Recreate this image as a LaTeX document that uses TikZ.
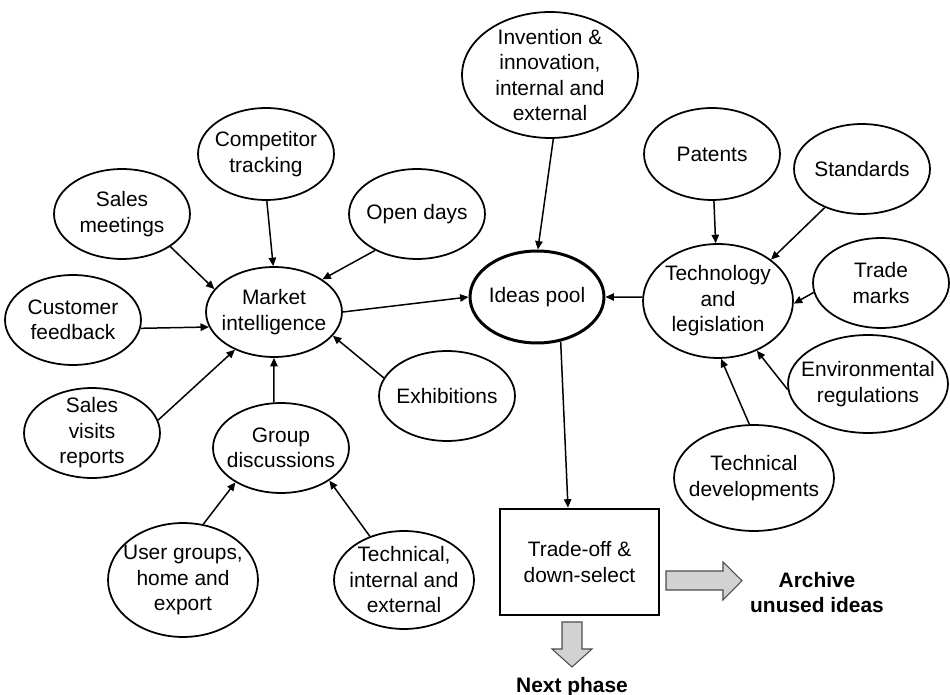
\documentclass[tikz,border=0pt]{standalone}
\usepackage{fontspec}
\setmainfont{Liberation Sans}
\usetikzlibrary{shapes.geometric,arrows.meta,calc}
\newcommand\diagfont{\fontsize{11.9pt}{14.5pt}\selectfont}
\begin{document}
\begin{tikzpicture}[x=0.02cm,y=-0.02cm,
  ell/.style 2 args={ellipse, draw, line width=1pt,
    minimum width={#1*0.04cm}, minimum height={#2*0.04cm},
    inner xsep=-0.3cm, inner ysep=-0.24cm, align=center, font=\diagfont},
  conn/.style={line width=0.85pt, -{Triangle[length=4.8pt,width=4.2pt]}},
  barrow/.style={fill=gray!35, draw=black!70, line width=0.6pt, line join=miter},
  lbl/.style={font=\diagfont\bfseries, align=center}]
\useasboundingbox (0,0) rectangle (950,695);

% sources feeding the market intelligence
\node[ell={68}{46}] (comp)  at (266,154) {Competitor\\tracking};
\node[ell={68}{45}] (smeet) at (122,214) {Sales\\meetings};
\node[ell={68}{45}] (open)  at (417,214) {Open days};
\node[ell={68}{45}] (cust)  at (73,320)  {Customer\\feedback};
\node[ell={68}{45}] (mkt)   at (274,312) {Market\\intelligence};
\node[ell={68}{45}] (exh)   at (447,396) {Exhibitions};
\node[ell={68}{45}] (svis)  at (92,433)  {Sales\\visits\\reports};
\node[ell={68}{45}] (grp)   at (281,448) {Group\\discussions};
\node[ell={75}{57}] (user)  at (183,580) {User groups,\\home and\\export};
\node[ell={70}{49}] (texe)  at (404,580) {Technical,\\internal and\\external};

% central pool
\node[ell={88}{63}] (inv) at (550,75) {Invention \&\\innovation,\\internal and\\external};
\node[ell={67}{46}, line width=1.7pt] (pool) at (537,297) {Ideas pool};

% technology and legislation side
\node[ell={68}{46}] (pat)  at (712,154) {Patents};
\node[ell={68}{45}] (std)  at (862,169) {Standards};
\node[ell={75}{57}] (tech) at (718,301) {Technology\\and\\legislation};
\node[ell={68}{45}] (tm)   at (881,283) {Trade\\marks};
\node[ell={80}{49}] (env)  at (868,384) {Environmental\\regulations};
\node[ell={80}{53}] (tdev) at (754,478) {Technical\\developments};

% selection stage
\node[draw, line width=1.6pt, minimum width={159*0.02cm}, minimum height={106*0.02cm},
      align=center, font=\diagfont] (box) at (579.5,562) {Trade-off \&\\down-select};
\node[lbl] (arch) at (817,592.5) {Archive\\unused ideas};
\node[lbl, anchor=base] (next) at (572,692) {Next phase};

% connectors
\draw[conn] (comp.-89)  -- (mkt.91);
\draw[conn] (smeet.-34) -- (mkt.159);
\draw[conn] (open.221)  -- (mkt.34);
\draw[conn] (cust.-7)   -- (mkt.193);
\draw[conn] (svis.11)   -- (mkt.224);
\draw[conn] (grp.99)    -- (mkt.-90);
\draw[conn] (exh.164)   -- (mkt.-22);
\draw[conn] (user.70)   -- (grp.217);
\draw[conn] (texe.128)  -- (grp.-34);
\draw[conn] (mkt.0)     -- (pool.180);
\draw[conn] (inv.-87)   -- (pool.89);
\draw[conn] (tech.177)  -- (pool.0);
\draw[conn] (pat)       -- (tech);
\draw[conn] (std.226)   -- (tech.38);
\draw[conn] (tm.188)    -- (tech.-2);
\draw[conn] (env.184)   -- (tech.-52);
\draw[conn] (tdev.95)   -- (tech.-87);
\draw[conn] (pool.-62)  -- ([xshift=-0.23cm]box.north);

% block arrows out of the selection stage
\filldraw[barrow] (666,571) -- (723,571) -- (723,562) -- (742,580.7)
  -- (723,600) -- (723,590) -- (666,590) -- cycle;
\filldraw[barrow] (562,622) -- (582,622) -- (582,649) -- (592,649)
  -- (572,667) -- (552,649) -- (562,649) -- cycle;
\end{tikzpicture}
\end{document}
